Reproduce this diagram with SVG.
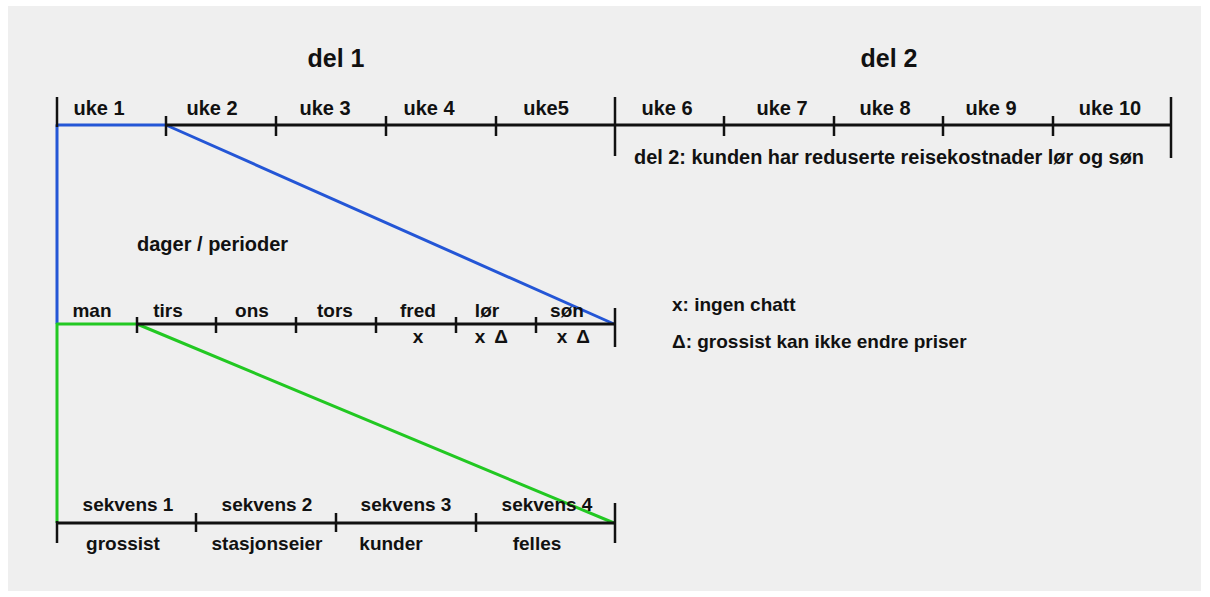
<svg xmlns="http://www.w3.org/2000/svg" width="1210" height="597" viewBox="0 0 1210 597">
  <style>
    .axis { stroke: #111; stroke-width: 3; fill: none; stroke-linecap: butt; }
    .tick { stroke: #111; stroke-width: 2.5; fill: none; }
    .lbl { font-family: "Liberation Sans", Arial, Helvetica, sans-serif; font-weight: bold; fill: #111; text-anchor: middle; }
    .l20 { font-size: 20px; }
    .l19 { font-size: 19px; }
    .title { font-size: 25px; }
    .left { text-anchor: start; }
    .blue { stroke: #2456d6; stroke-width: 3; fill: none; stroke-linejoin: round; }
    .green { stroke: #22c822; stroke-width: 3; fill: none; stroke-linejoin: round; }
  </style>

  <!-- page background -->
  <rect x="0" y="0" width="1210" height="597" fill="#ffffff"/>
  <rect x="8" y="6" width="1193" height="585" fill="#efefef"/>

  <!-- zoom lines linking each timeline to the finer one below -->
  <g id="connectors">
    <polyline class="blue" points="57,324 57,125 166,125 614,324"/>
    <polyline class="green" points="57,523 57,324 137,324 614,523"/>
  </g>

  <!-- weeks timeline -->
  <g id="weeks">
    <text class="lbl title" x="336" y="67">del 1</text>
    <text class="lbl title" x="889" y="67">del 2</text>
    <line class="axis" x1="166" y1="125" x2="1172" y2="125"/>
    <line class="tick" x1="57" y1="97" x2="57" y2="127"/>
    <line class="tick" x1="615" y1="97" x2="615" y2="156"/>
    <line class="tick" x1="1171" y1="97" x2="1171" y2="158"/>
    <g class="tick">
      <line x1="166" y1="116" x2="166" y2="136"/>
      <line x1="276" y1="116" x2="276" y2="136"/>
      <line x1="386" y1="116" x2="386" y2="136"/>
      <line x1="496" y1="116" x2="496" y2="136"/>
      <line x1="724" y1="116" x2="724" y2="136"/>
      <line x1="834" y1="116" x2="834" y2="136"/>
      <line x1="943" y1="116" x2="943" y2="136"/>
      <line x1="1053" y1="116" x2="1053" y2="136"/>
    </g>
    <text class="lbl l20" x="99" y="115">uke 1</text>
    <text class="lbl l20" x="212" y="115">uke 2</text>
    <text class="lbl l20" x="325" y="115">uke 3</text>
    <text class="lbl l20" x="429" y="115">uke 4</text>
    <text class="lbl l20" x="546" y="115">uke5</text>
    <text class="lbl l20" x="667" y="115">uke 6</text>
    <text class="lbl l20" x="782" y="115">uke 7</text>
    <text class="lbl l20" x="885" y="115">uke 8</text>
    <text class="lbl l20" x="991" y="115">uke 9</text>
    <text class="lbl l20" x="1110" y="115">uke 10</text>
    <text class="lbl l20 left" x="634" y="164" textLength="510" lengthAdjust="spacingAndGlyphs">del 2: kunden har reduserte reisekostnader lør og søn</text>
  </g>

  <!-- days timeline -->
  <g id="days">
    <text class="lbl l20 left" x="137" y="251">dager / perioder</text>
    <line class="axis" x1="137" y1="324" x2="615" y2="324"/>
    <g class="tick">
      <line x1="137" y1="317" x2="137" y2="333"/>
      <line x1="216" y1="317" x2="216" y2="333"/>
      <line x1="296" y1="317" x2="296" y2="333"/>
      <line x1="376" y1="317" x2="376" y2="333"/>
      <line x1="456" y1="317" x2="456" y2="333"/>
      <line x1="536" y1="317" x2="536" y2="333"/>
    </g>
    <line class="tick" x1="615" y1="308" x2="615" y2="347"/>
    <text class="lbl l19" x="92" y="317">man</text>
    <text class="lbl l19" x="168" y="317">tirs</text>
    <text class="lbl l19" x="252" y="317">ons</text>
    <text class="lbl l19" x="335" y="317">tors</text>
    <text class="lbl l19" x="418" y="317">fred</text>
    <text class="lbl l19" x="487" y="317">lør</text>
    <text class="lbl l19" x="567" y="317">søn</text>
    <text class="lbl l19" x="418" y="343">x</text>
    <text class="lbl l19" x="480" y="343">x</text>
    <text class="lbl l19" x="501" y="343">Δ</text>
    <text class="lbl l19" x="562" y="343">x</text>
    <text class="lbl l19" x="583" y="343">Δ</text>
  </g>

  <!-- legend for the day marks -->
  <g id="legend">
    <text class="lbl l19 left" x="672" y="311">x: ingen chatt</text>
    <text class="lbl l19 left" x="672" y="348">Δ: grossist kan ikke endre priser</text>
  </g>

  <!-- sequence timeline -->
  <g id="sequences">
    <line class="axis" x1="57" y1="523" x2="615" y2="523"/>
    <line class="tick" x1="57" y1="521" x2="57" y2="543"/>
    <g class="tick">
      <line x1="196" y1="513" x2="196" y2="532"/>
      <line x1="336" y1="513" x2="336" y2="532"/>
      <line x1="476" y1="513" x2="476" y2="532"/>
    </g>
    <line class="tick" x1="615" y1="503" x2="615" y2="543"/>
    <text class="lbl l19" x="128" y="511">sekvens 1</text>
    <text class="lbl l19" x="267" y="511">sekvens 2</text>
    <text class="lbl l19" x="406" y="511">sekvens 3</text>
    <text class="lbl l19" x="547" y="511">sekvens 4</text>
    <text class="lbl l19" x="123" y="550">grossist</text>
    <text class="lbl l19" x="267" y="550">stasjonseier</text>
    <text class="lbl l19" x="391" y="550">kunder</text>
    <text class="lbl l19" x="537" y="550">felles</text>
  </g>
</svg>
